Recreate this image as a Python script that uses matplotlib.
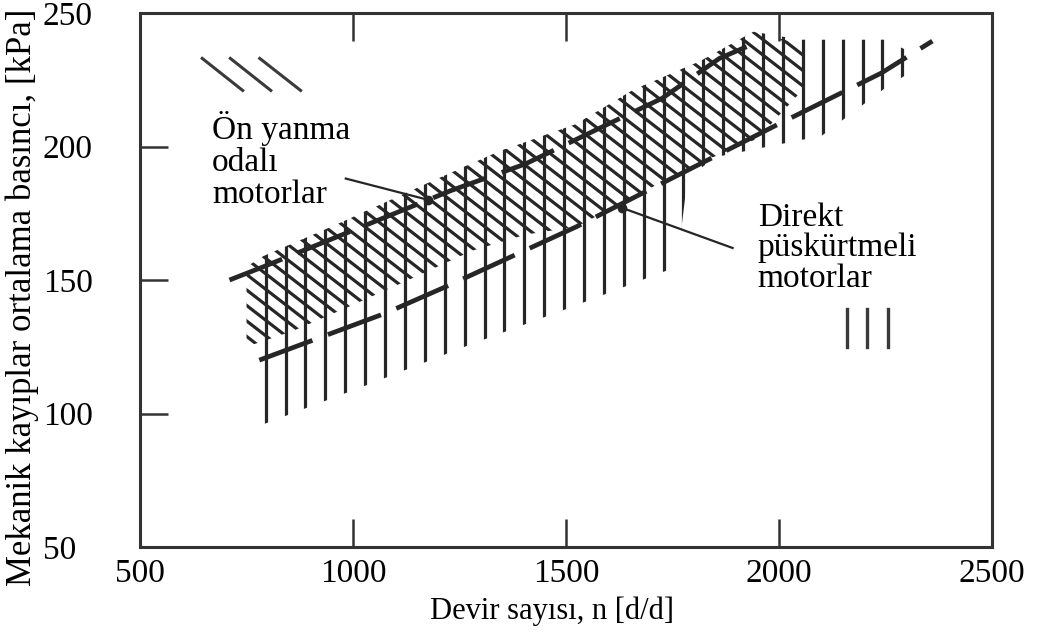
import numpy as np
import matplotlib.pyplot as plt
from matplotlib.collections import LineCollection
from matplotlib.patches import Polygon

plt.rcParams['font.family'] = ['Liberation Serif', 'DejaVu Serif']

# axes
x_ticks = [500, 1000, 1500, 2000, 2500]
y_ticks = [50, 100, 150, 200, 250]

# pre-chamber engines: band edges and the line drawn along its top
pc_top_x = [750, 790, 950, 1185, 1340, 1525, 1655, 1815, 1940, 2060]
pc_top_y = [155, 159, 170, 187, 198, 208.5, 221, 232, 243, 238]
pc_bot_x = [750, 860, 990, 1130, 1280, 1405, 1525, 1705, 1845, 1950, 2060]
pc_bot_y = [125, 131, 140, 150, 161, 167, 170, 185, 196, 203, 222]
pc_line_x = [710, 790, 1230, 1405, 1600, 1725, 1860, 1955]
pc_line_y = [150, 155, 183.5, 193.5, 208.5, 218, 233, 239.5]

# direct injection engines
di_top_x = [790, 950, 1185, 1340, 1525, 1655, 1815, 1940, 2050, 2250, 2300]
di_top_y = [159, 170, 187, 198, 208.5, 221, 232, 243, 240, 240, 236]
di_bot_x = [790, 1030, 1270, 1515, 1760, 1785, 1850, 2100, 2200, 2250, 2300]
di_bot_y = [96, 110.5, 125.5, 140, 155, 188, 196, 204, 216, 222, 227]
di_line_x = [780, 1075, 1225, 1525, 2000, 2240, 2360]
di_line_y = [120, 137.5, 148, 170, 208.5, 227.5, 239.5]

# leader lines from the labels
pc_ptr_x = [983, 1177]
pc_ptr_y = [188, 180]
di_ptr_x = [1632, 1891]
di_ptr_y = [177, 162]

# hatch keys
pc_key_x0 = [646, 712, 781]
pc_key_x1 = [741, 807, 877]
pc_key_y = [233, 221]
di_key_x = [2160, 2207, 2255]
di_key_y = [139, 125]

ink = '#262626'
HATCH_DX = 46.7       # rpm between vertical hatch lines
DIAG_SLOPE = -0.1236  # kPa per rpm of the slanted hatch
DIAG_DY = 5.8         # kPa between slanted hatch lines

fig = plt.figure(figsize=(10.38, 6.41), dpi=100)
ax = fig.add_axes([0.1349, 0.1466, 0.8208, 0.8331])
ax.set_xlim(500, 2500)
ax.set_ylim(50, 250)


def band(top_x, top_y, bot_x, bot_y):
    verts = np.column_stack([top_x + bot_x[::-1], top_y + bot_y[::-1]])
    p = Polygon(verts, closed=True, facecolor='none', edgecolor='none')
    ax.add_patch(p)
    return p


# vertical hatch - direct injection
di_poly = band(di_top_x, di_top_y, di_bot_x, di_bot_y)
vx = np.arange(di_top_x[0] + 5, di_top_x[-1], HATCH_DX)
vert = LineCollection([[(x, 50), (x, 250)] for x in vx], colors=ink, linewidths=2.3)
ax.add_collection(vert)
vert.set_clip_path(di_poly)

# slanted hatch - pre-chamber
pc_poly = band(pc_top_x, pc_top_y, pc_bot_x, pc_bot_y)
bs = np.arange(210, 505, DIAG_DY)
diag = LineCollection([[(500, b + DIAG_SLOPE * 500), (2500, b + DIAG_SLOPE * 2500)] for b in bs],
                      colors=ink, linewidths=2.3)
ax.add_collection(diag)
diag.set_clip_path(pc_poly)

# dashed band lines
for lx, ly in [(pc_line_x, pc_line_y), (di_line_x, di_line_y)]:
    ax.plot(lx, ly, color=ink, lw=3.4, ls=(0, (12, 3.5)), dash_capstyle='butt')

# leaders
ax.plot(pc_ptr_x, pc_ptr_y, color=ink, lw=1.6)
ax.plot(pc_ptr_x[-1], pc_ptr_y[-1], 'o', color=ink, ms=6)
ax.plot(di_ptr_x, di_ptr_y, color=ink, lw=1.6)
ax.plot(di_ptr_x[0], di_ptr_y[0], 'o', color=ink, ms=6)

# keys
for a, b in zip(pc_key_x0, pc_key_x1):
    ax.plot([a, b], pc_key_y, color='#3a3a3a', lw=2.2)
for x in di_key_x:
    ax.plot([x, x], di_key_y, color='#3a3a3a', lw=2.4)

# labels, anchored at the baseline of their last line
ax.text(669, 178.8, 'Ön yanma\nodalı\nmotorlar', fontsize=24, linespacing=1.07,
        va='baseline', ha='left')
ax.text(1950, 147.4, 'Direkt\npüskürtmeli\nmotorlar', fontsize=24, linespacing=1.0,
        va='baseline', ha='left')

# frame and ticks
for s in ax.spines.values():
    s.set_linewidth(2.2)
    s.set_color('#333333')
ax.set_xticks(x_ticks)
ax.set_yticks(y_ticks)
ax.tick_params(direction='in', length=20, width=1.8, color='#333333',
               labelsize=24, top=True, right=False)
ax.tick_params(axis='x', pad=8)
ax.tick_params(axis='y', pad=70)
for lab in ax.get_yticklabels():
    lab.set_horizontalalignment('left')

ax.set_xlabel('Devir sayısı, n [d/d]', fontsize=22)
ax.xaxis.set_label_coords(0.483, -0.092)
ax.set_ylabel('Mekanik kayıplar ortalama basıncı, [kPa]', fontsize=25)
ax.yaxis.set_label_coords(-0.118, 0.467)

fig.savefig('out.png', dpi=100)
